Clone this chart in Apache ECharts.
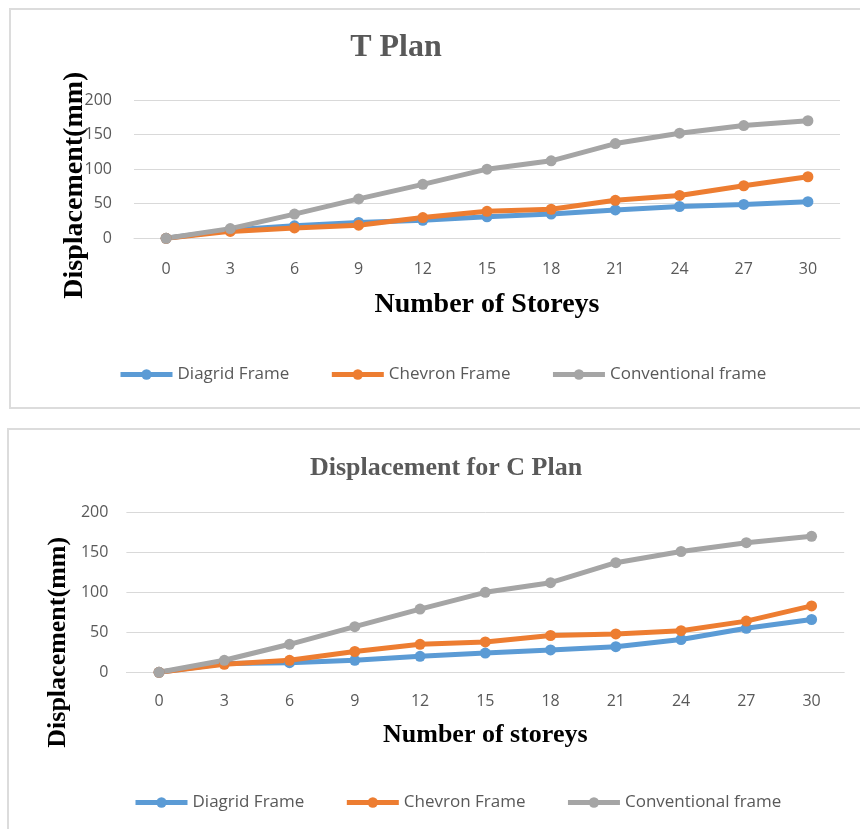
<!DOCTYPE html>
<html>
<head>
<meta charset="utf-8">
<script src="https://cdn.jsdelivr.net/npm/echarts@6/dist/echarts.min.js"></script>
<style>
  html, body { margin: 0; padding: 0; background: #ffffff; overflow: hidden; }
  #page { position: relative; width: 860px; height: 829px; overflow: hidden; }
  .box { position: absolute; border: 2px solid #dcdcdc; box-sizing: border-box; }
  #box1 { left: 9px; top: 8px; width: 870px; height: 401px; }
  #box2 { left: 7px; top: 428px; width: 870px; height: 420px; }
  #chart { position: absolute; left: 0; top: 0; width: 860px; height: 829px; }
</style>
</head>
<body>
<div id="page">
  <div class="box" id="box1"></div>
  <div class="box" id="box2"></div>
  <div id="chart"></div>
</div>
<script>
// Number of storeys on the horizontal axis
const storeys = ['0', '3', '6', '9', '12', '15', '18', '21', '24', '27', '30'];
const yTicks = [0, 50, 100, 150, 200];

// T plan displacements (mm)
const tDiagrid      = [0, 12, 18, 23, 26, 31, 35, 41, 46, 49, 53];
const tChevron      = [0, 10, 15, 19, 30, 39, 42, 55, 62, 76, 89];
const tConventional = [0, 14, 35, 57, 78, 100, 112, 137, 152, 163, 170];

// C plan displacements (mm)
const cDiagrid      = [0, 11, 12, 15, 20, 24, 28, 32, 41, 55, 66];
const cChevron      = [0, 10, 15, 26, 35, 38, 46, 48, 52, 64, 83];
const cConventional = [0, 15, 35, 57, 79, 100, 112, 137, 151, 162, 170];

const seriesNames = ['Diagrid Frame', 'Chevron Frame', 'Conventional frame'];
const colors = ['#5B9BD5', '#ED7D31', '#A5A5A5'];

const serif = '"Liberation Serif", "DejaVu Serif", serif';
const sans = '"Open Sans", "Liberation Sans", sans-serif';
const grey = '#595959';

function xAxisFor(gridIndex, name, gap, margin) {
  return {
    type: 'category', gridIndex: gridIndex, data: storeys, boundaryGap: true,
    name: name, nameLocation: 'middle', nameGap: gap, nameMoveOverlap: false,
    nameTextStyle: { fontFamily: serif, fontWeight: 'bold', fontSize: gridIndex === 0 ? 28 : 26, color: '#000' },
    axisTick: { show: false },
    axisLine: { lineStyle: { color: '#d9d9d9', width: 1 } },
    axisLabel: { color: grey, fontFamily: sans, fontSize: 16, margin: margin }
  };
}

function yAxisFor(gridIndex, gap, shift, size, margin) {
  return {
    type: 'value', gridIndex: gridIndex, min: yTicks[0], max: yTicks[yTicks.length - 1], interval: 50,
    name: 'Displacement(mm)', nameLocation: 'middle', nameGap: gap, nameRotate: 90, nameMoveOverlap: false,
    nameTextStyle: { fontFamily: serif, fontWeight: 'bold', fontSize: size, color: '#000', padding: [0, shift, 0, 0] },
    axisLine: { show: false }, axisTick: { show: false },
    axisLabel: { color: grey, fontFamily: sans, fontSize: 16, margin: margin },
    splitLine: { lineStyle: { color: '#d9d9d9', width: 1 } }
  };
}

function lineSeries(name, data, idx, axisIndex) {
  return {
    type: 'line', name: name, data: data,
    xAxisIndex: axisIndex, yAxisIndex: axisIndex,
    symbol: 'circle', symbolSize: 11,
    color: colors[idx],
    lineStyle: { width: 5, color: colors[idx] },
    itemStyle: { color: colors[idx] },
    emphasis: { disabled: true },
    animation: false
  };
}

function legendAt(left, top) {
  return {
    left: left, top: top, data: seriesNames, itemWidth: 52, itemHeight: 13, itemGap: 40,
    lineStyle: { width: 5 },
    textStyle: { color: grey, fontFamily: sans, fontSize: 17 }
  };
}

const chart = echarts.init(document.getElementById('chart'), null, { renderer: 'canvas' });
chart.setOption({
  backgroundColor: 'transparent',
  animation: false,
  title: [
    { text: 'T Plan', left: 391, top: 27, textAlign: 'center',
      textStyle: { fontFamily: serif, fontWeight: 'bold', fontSize: 32, color: grey } },
    { text: 'Displacement for C Plan', left: 441, top: 450, textAlign: 'center',
      textStyle: { fontFamily: serif, fontWeight: 'bold', fontSize: 26, color: grey } }
  ],
  legend: [legendAt(113, 361), legendAt(128, 789)],
  grid: [
    { left: 134, right: 20, top: 100, height: 138.3 },
    { left: 126.4, right: 15.8, top: 512.3, height: 160 }
  ],
  xAxis: [xAxisFor(0, 'Number of Storeys', 52, 23), xAxisFor(1, 'Number of storeys', 50, 21)],
  yAxis: [yAxisFor(0, 45, 32, 28, 22), yAxisFor(1, 55, 100, 26, 18)],
  series: [
    lineSeries(seriesNames[0], tDiagrid, 0, 0),
    lineSeries(seriesNames[1], tChevron, 1, 0),
    lineSeries(seriesNames[2], tConventional, 2, 0),
    lineSeries(seriesNames[0], cDiagrid, 0, 1),
    lineSeries(seriesNames[1], cChevron, 1, 1),
    lineSeries(seriesNames[2], cConventional, 2, 1)
  ]
});
</script>
</body>
</html>
